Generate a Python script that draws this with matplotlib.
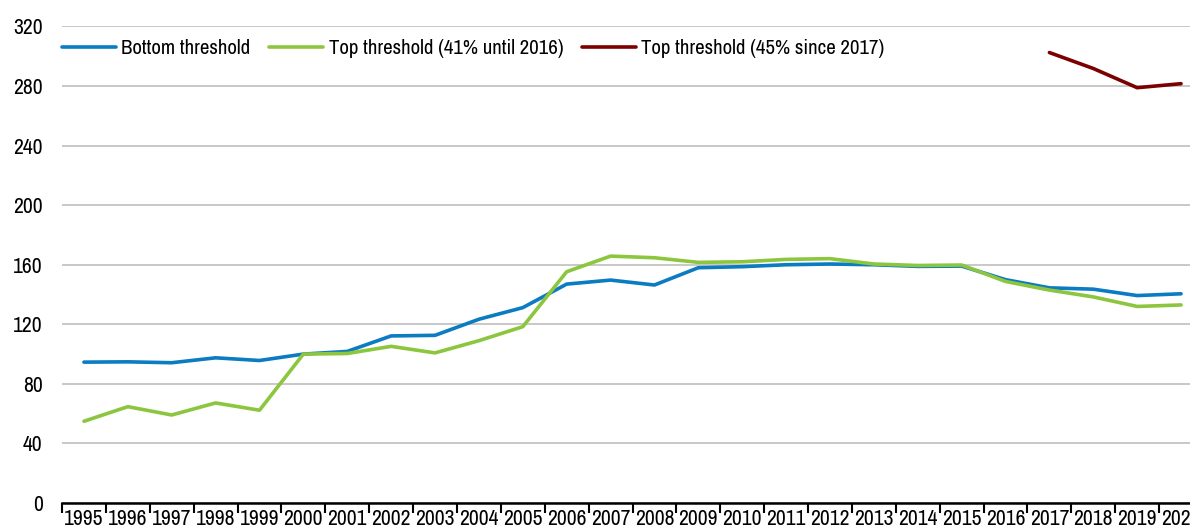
import matplotlib
matplotlib.use("Agg")
import matplotlib.pyplot as plt
import numpy as np

plt.rcParams['font.family'] = ['Archivo Narrow', 'Liberation Sans', 'DejaVu Sans']

years = [str(y) for y in range(1995, 2021)]

bottom = [94.6, 94.8, 94.2, 97.5, 95.7, 100.0, 101.8, 112.2, 112.6, 123.4,
          131.2, 147.0, 149.7, 146.4, 158.0, 158.7, 160.0, 160.5, 160.0, 158.9,
          159.1, 150.0, 144.5, 143.6, 139.3, 140.5]

top41 = [54.9, 64.7, 59.1, 67.2, 62.3, 100.0, 100.4, 105.2, 100.8, 109.0,
         118.4, 155.3, 165.8, 164.7, 161.6, 162.0, 163.6, 164.1, 160.5, 159.5,
         159.8, 148.8, 143.0, 138.4, 132.0, 133.0]

top45_years = ["2017", "2018", "2019", "2020"]
top45 = [302.5, 291.8, 278.9, 281.6]

blue = "#0b7bc2"
green = "#8cc63f"
red = "#7d0000"

fig = plt.figure(figsize=(11.9, 5.29), dpi=100)
# axes run a bit past the right edge, like the original (last label is cut)
ax = fig.add_axes([62 / 1190, 26 / 529, 1141 / 1190, 476.5 / 529])

x = np.arange(len(years))
x45 = [years.index(y) for y in top45_years]

ax.plot(x, bottom, color=blue, lw=2.6, label="Bottom threshold", solid_capstyle="round")
ax.plot(x, top41, color=green, lw=2.6, label="Top threshold (41% until 2016)", solid_capstyle="round")
ax.plot(x45, top45, color=red, lw=2.6, label="Top threshold (45% since 2017)", solid_capstyle="round")

ax.set_xlim(-0.5, len(years) - 0.5)
ax.set_ylim(0, 320)
ax.set_yticks(range(0, 321, 40))
ax.set_xticks(x)
ax.set_xticklabels(years)
ax.set_xticks(np.arange(-0.5, len(years), 1), minor=True)

ax.tick_params(axis="x", which="major", length=0, pad=4, labelsize=15.5)
ax.tick_params(axis="x", which="minor", length=7, width=1.5, direction="out", color="black")
ax.tick_params(axis="y", length=0, pad=14, labelsize=15.5)

for s in ["top", "right", "left"]:
    ax.spines[s].set_visible(False)
ax.spines["bottom"].set_linewidth(1.8)
ax.spines["bottom"].set_color("black")

ax.yaxis.grid(True, color="#c8c8c8", lw=1.4)
ax.set_axisbelow(True)

ax.legend(loc="center left", bbox_to_anchor=(0, 0.953), ncol=3, frameon=False,
          fontsize=15, handlelength=2.6, handletextpad=0.25, columnspacing=0.9,
          borderpad=0, borderaxespad=0)

fig.savefig("out.png", dpi=100)
